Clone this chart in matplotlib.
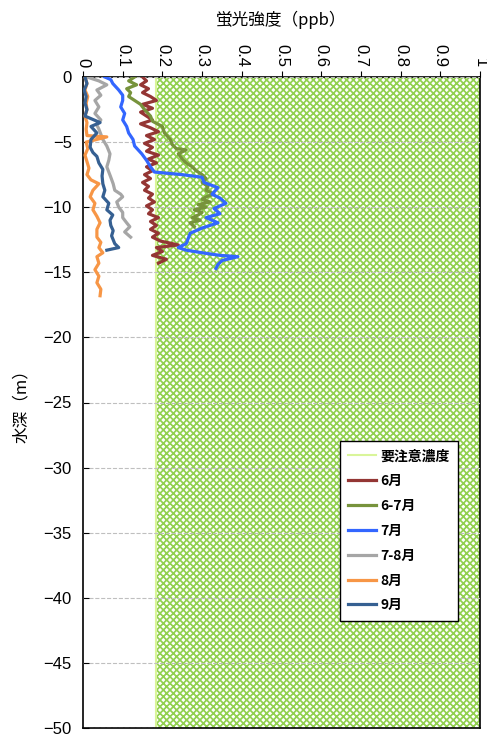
import matplotlib
matplotlib.use("Agg")
import matplotlib.pyplot as plt
import numpy as np

plt.rcParams['font.family'] = ['Noto Sans CJK JP', 'DejaVu Sans']
plt.rcParams['hatch.linewidth'] = 1.25
plt.rcParams['hatch.color'] = '#92D050'
plt.rcParams['axes.unicode_minus'] = True

threshold = 0.185
depth_min = -50

# 6月
d_jun = [0, -0.3, -0.6, -0.9, -1.2, -1.5, -1.8, -2.1, -2.4, -2.7, -3.0, -3.3, -3.6, -3.9, -4.2, -4.5, -4.8, -5.1, -5.4, -5.7, -6.0, -6.3, -6.6, -6.9, -7.2, -7.5, -7.8, -8.1, -8.4, -8.7, -9.0, -9.3, -9.6, -9.9, -10.2, -10.5, -10.8, -11.1, -11.4, -11.7, -12.0, -12.3, -12.6, -12.9, -13.1, -13.4, -13.7, -14.0, -14.3]
x_jun = [0.15, 0.16, 0.145, 0.165, 0.15, 0.17, 0.185, 0.15, 0.175, 0.145, 0.16, 0.175, 0.145, 0.17, 0.19, 0.16, 0.18, 0.155, 0.175, 0.16, 0.19, 0.165, 0.185, 0.16, 0.175, 0.155, 0.17, 0.15, 0.165, 0.155, 0.175, 0.165, 0.18, 0.16, 0.175, 0.165, 0.19, 0.17, 0.185, 0.17, 0.19, 0.175, 0.195, 0.24, 0.185, 0.2, 0.175, 0.21, 0.19]

# 6-7月
d_jj = [0, -0.3, -0.6, -0.9, -1.2, -1.5, -1.8, -2.1, -2.5, -3.0, -3.4, -3.8, -4.3, -4.8, -5.2, -5.5, -5.6, -5.9, -6.3, -6.6, -6.9, -7.2, -7.5, -7.8, -8.1, -8.4, -8.7, -9.0, -9.2, -9.4, -9.6, -9.8, -10.0, -10.2, -10.4, -10.6, -10.8, -11.0, -11.2, -11.5]
x_jj = [0.13, 0.115, 0.135, 0.11, 0.12, 0.115, 0.13, 0.145, 0.155, 0.17, 0.175, 0.2, 0.205, 0.22, 0.225, 0.235, 0.26, 0.24, 0.25, 0.26, 0.275, 0.285, 0.3, 0.31, 0.3, 0.315, 0.31, 0.33, 0.31, 0.3, 0.32, 0.29, 0.31, 0.28, 0.3, 0.29, 0.275, 0.295, 0.27, 0.28]

# 7月
d_jul = [0, -0.2, -0.5, -1.0, -1.4, -1.8, -2.3, -2.8, -3.3, -3.8, -4.3, -4.8, -5.3, -5.9, -6.4, -6.9, -7.3, -7.5, -7.7, -8.1, -8.5, -9.0, -9.3, -9.7, -10.1, -10.5, -10.8, -11.2, -11.6, -12.0, -12.4, -12.8, -13.1, -13.3, -13.5, -13.7, -13.8, -14.1, -14.4, -14.7]
x_jul = [0.055, 0.07, 0.075, 0.09, 0.1, 0.1, 0.095, 0.105, 0.1, 0.11, 0.115, 0.126, 0.13, 0.148, 0.16, 0.17, 0.18, 0.25, 0.3, 0.305, 0.34, 0.325, 0.345, 0.36, 0.33, 0.345, 0.31, 0.34, 0.3, 0.27, 0.265, 0.26, 0.24, 0.26, 0.3, 0.345, 0.39, 0.35, 0.34, 0.335]

# 7-8月
d_ja = [0, -0.3, -0.6, -1.0, -1.4, -1.8, -2.3, -2.8, -3.3, -3.7, -4.0, -4.4, -4.8, -5.3, -5.9, -6.4, -6.9, -7.3, -7.7, -8.2, -8.7, -9.0, -9.2, -9.6, -10.0, -10.4, -10.8, -11.2, -11.5, -11.9, -12.3]
x_ja = [0.01, 0.04, 0.06, 0.035, 0.045, 0.03, 0.04, 0.03, 0.045, 0.035, 0.04, 0.045, 0.05, 0.06, 0.068, 0.065, 0.06, 0.065, 0.07, 0.076, 0.08, 0.095, 0.1, 0.085, 0.09, 0.1, 0.1, 0.11, 0.118, 0.105, 0.12]

# 8月
d_aug = [0, -0.5, -1.0, -1.5, -2.0, -2.5, -3.0, -3.5, -4.0, -4.5, -4.6, -5.0, -5.5, -6.0, -6.5, -7.0, -7.5, -7.9, -8.2, -8.7, -9.2, -9.7, -10.2, -10.7, -11.2, -11.7, -12.3, -12.7, -13.1, -13.5, -13.8, -14.3, -14.8, -15.3, -15.8, -16.3, -16.8]
x_aug = [0.005, 0.01, 0.005, 0.012, 0.008, 0.01, 0.005, 0.01, 0.008, 0.01, 0.06, 0.008, 0.012, 0.005, 0.01, 0.015, 0.01, 0.02, 0.04, 0.025, 0.018, 0.03, 0.025, 0.035, 0.043, 0.035, 0.035, 0.045, 0.04, 0.05, 0.035, 0.04, 0.03, 0.04, 0.035, 0.045, 0.043]

# 9月
d_sep = [0, -0.5, -1.0, -1.5, -2.0, -2.5, -3.0, -3.5, -3.8, -4.3, -4.8, -5.4, -5.8, -6.1, -6.6, -7.1, -7.6, -8.2, -8.7, -9.2, -9.7, -10.2, -10.6, -11.0, -11.4, -11.8, -12.2, -12.5, -12.8, -13.1, -13.3]
x_sep = [0.005, 0.01, 0.003, 0.008, 0.005, 0.01, 0.005, 0.043, 0.02, 0.035, 0.02, 0.018, 0.025, 0.035, 0.04, 0.05, 0.048, 0.05, 0.055, 0.05, 0.065, 0.06, 0.075, 0.068, 0.07, 0.076, 0.072, 0.076, 0.08, 0.09, 0.06]

series_names = ['6月', '6-7月', '7月', '7-8月', '8月', '9月']
series_colors = ['#943634', '#77933C', '#3366FF', '#A6A6A6', '#F79646', '#366092']
series_x = [x_jun, x_jj, x_jul, x_ja, x_aug, x_sep]
series_d = [d_jun, d_jj, d_jul, d_ja, d_aug, d_sep]

x_ticks = [0, 0.1, 0.2, 0.3, 0.4, 0.5, 0.6, 0.7, 0.8, 0.9, 1]
x_tick_labels = ['0', '0.1', '0.2', '0.3', '0.4', '0.5', '0.6', '0.7', '0.8', '0.9', '1']
y_ticks = [0, -5, -10, -15, -20, -25, -30, -35, -40, -45, -50]

fig = plt.figure(figsize=(4.87, 7.40), dpi=100)
ax = fig.add_axes([83/487, 1-728/740, (480-83)/487, (728-77)/740])

ax.fill_betweenx([0, depth_min], threshold, 1, facecolor='white', edgecolor='#92D050',
                 hatch='xxxxx', linewidth=0, zorder=1)
ax.plot([threshold, threshold], [0, depth_min], color='#D9F59A', lw=1.5, zorder=2,
        label='要注意濃度')

for name, col, xs, ds in zip(series_names, series_colors, series_x, series_d):
    ax.plot(xs, ds, color=col, lw=2.3, label=name, zorder=3)

ax.set_xlim(0, 1)
ax.set_ylim(depth_min, 0)
ax.xaxis.tick_top()
ax.xaxis.set_label_position('top')
ax.set_xticks(x_ticks)
ax.set_xticklabels(x_tick_labels, rotation=-90, fontsize=12, family=['Liberation Sans'])
ax.set_yticks(y_ticks)
ax.set_yticklabels([str(v).replace('-', '\u2212') for v in y_ticks], fontsize=12,
                   family=['Liberation Sans', 'DejaVu Sans'])
ax.tick_params(axis='x', direction='out', length=4, pad=3)
ax.tick_params(axis='y', direction='in', length=4, pad=8)
ax.yaxis.grid(True, color='#BFBFBF', ls='--', lw=0.8)
ax.set_axisbelow(False)
for s in ax.spines.values():
    s.set_linewidth(1.2)

ax.set_xlabel('蛍光強度（ppb）', fontsize=12, labelpad=14)
ax.set_ylabel('水深（m）', fontsize=12, labelpad=10)

leg = ax.legend(loc='upper left', bbox_to_anchor=((340-83)/397, 1-(441-77)/651),
                frameon=True, fancybox=False, edgecolor='black', fontsize=10,
                framealpha=1, handlelength=2.0, labelspacing=0.78, borderpad=0.6,
                handletextpad=0.3, borderaxespad=0)
leg.get_frame().set_linewidth(1.0)
leg.set_zorder(5)
for t in leg.get_texts():
    t.set_fontweight('bold')

fig.savefig('out.png', dpi=100)
